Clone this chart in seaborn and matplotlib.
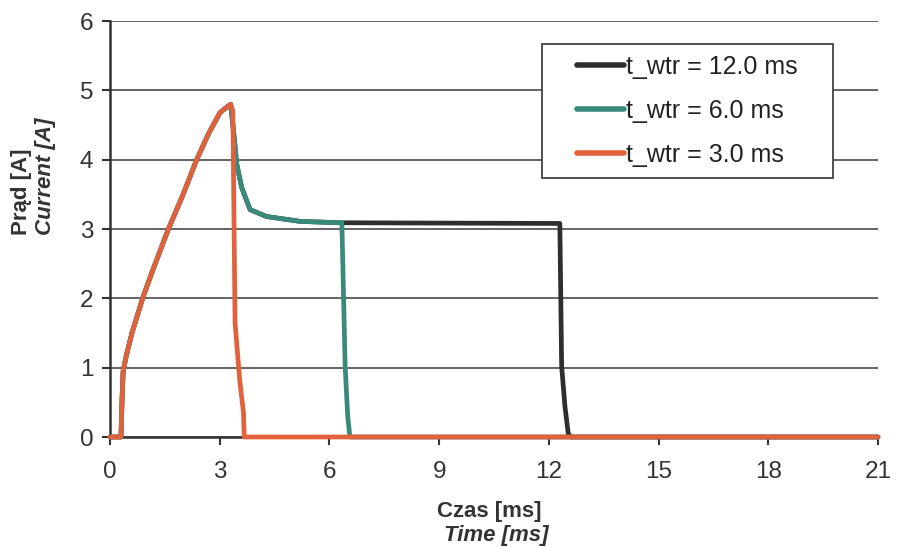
import numpy as np
import pandas as pd
import matplotlib
matplotlib.use("Agg")
import matplotlib.pyplot as plt
from matplotlib.patches import Rectangle
import seaborn as sns

# ---- data ----
rise_t = [0.0, 0.30, 0.33, 0.36, 0.44, 0.60, 0.91, 1.20, 1.59, 2.00, 2.37, 2.70, 3.01, 3.30]
rise_i = [0.0, 0.0, 0.55, 0.95, 1.16, 1.50, 2.03, 2.45, 2.99, 3.50, 4.00, 4.38, 4.68, 4.80]

decay_t = [3.40, 3.46, 3.60, 3.83, 4.28, 5.20, 6.29]
decay_i = [4.30, 3.95, 3.60, 3.28, 3.18, 3.11, 3.09]

t12_tail_t = [12.30, 12.35, 12.44, 12.53, 12.60, 21.0]
t12_tail_i = [3.08, 1.02, 0.44, 0.05, 0.0, 0.0]

t6_tail_t = [6.34, 6.43, 6.50, 6.56, 21.0]
t6_tail_i = [3.09, 1.02, 0.30, 0.0, 0.0]

t3_tail_t = [3.36, 3.42, 3.55, 3.65, 3.67, 21.0]
t3_tail_i = [4.70, 1.64, 0.80, 0.35, 0.0, 0.0]

labels = ["t_wtr = 12.0 ms", "t_wtr = 6.0 ms", "t_wtr = 3.0 ms"]
colors = ["#2e2e2e", "#3a8a7c", "#e0623c"]

x_ticks = [0, 3, 6, 9, 12, 15, 18, 21]
y_ticks = [0, 1, 2, 3, 4, 5, 6]

series = {
    labels[0]: (rise_t + decay_t + t12_tail_t, rise_i + decay_i + t12_tail_i),
    labels[1]: (rise_t + decay_t + t6_tail_t, rise_i + decay_i + t6_tail_i),
    labels[2]: (rise_t + t3_tail_t, rise_i + t3_tail_i),
}
frames = []
for lab, (t, i) in series.items():
    frames.append(pd.DataFrame({"t": t, "i": i, "series": lab, "order": np.arange(len(t))}))
df = pd.concat(frames, ignore_index=True)

sns.set_style("white")
plt.rcParams["font.family"] = ["Liberation Sans", "DejaVu Sans"]

W, H = 899, 548
fig = plt.figure(figsize=(W / 100, H / 100), dpi=100)
ax = fig.add_axes([110 / W, 1 - 437 / H, (878 - 110) / W, (437 - 21) / H])

sns.lineplot(data=df, x="t", y="i", hue="series", hue_order=labels,
             palette=dict(zip(labels, colors)), sort=False, estimator=None,
             linewidth=3.4, ax=ax, legend=True)
for ln in ax.get_lines():
    ln.set_clip_on(False)
    ln.set_zorder(3)

ax.set_xlim(0, 21)
ax.set_ylim(0, 6)
ax.set_xticks(x_ticks)
ax.set_yticks(y_ticks)
ax.tick_params(axis="both", labelsize=17.5, direction="out", length=6, width=1.5,
               color="#333333", labelcolor="#333333", left=True, bottom=True)
ax.tick_params(axis="x", pad=11)
ax.tick_params(axis="y", pad=6)
ax.yaxis.grid(True, color="#4a4a4a", linewidth=1.2)
ax.xaxis.grid(False)
ax.set_axisbelow(True)
for s in ["top", "right"]:
    ax.spines[s].set_visible(False)
for s in ["left", "bottom"]:
    ax.spines[s].set_color("#333333")
    ax.spines[s].set_linewidth(1.8)
    ax.spines[s].set_zorder(2.5)
ax.set_xlabel("")
ax.set_ylabel("")

# legend box drawn separately (wide horizontal padding, tight vertical padding)
bx0, by0, bx1, by1 = 542, 44, 833, 178
ax.add_patch(Rectangle((bx0 / W, 1 - by1 / H), (bx1 - bx0) / W, (by1 - by0) / H,
                       transform=fig.transFigure, facecolor="white", clip_on=False,
                       edgecolor="#333333", linewidth=1.2, zorder=4))
leg = ax.legend(loc="center", bbox_to_anchor=(((bx0 + bx1) / 2) / W, 1 - ((by0 + by1) / 2) / H),
                bbox_transform=fig.transFigure,
                fontsize=18, frameon=False, handlelength=1.9, handletextpad=0.08,
                borderpad=0.0, labelspacing=0.8, borderaxespad=0)
leg.set_zorder(6)
for txt in leg.get_texts():
    txt.set_color("#222222")
for ln in leg.get_lines():
    ln.set_linewidth(4.0)

lab_kw = dict(fontsize=16, fontweight="bold", color="#333333")
fig.text(21 / W, 1 - 235 / H, "Prąd [A]", rotation=90, ha="center", va="bottom", **lab_kw)
fig.text(46 / W, 1 - 235 / H, "Current [A]", rotation=90, ha="center", va="bottom",
         fontstyle="italic", **lab_kw)
fig.text(489 / W, 1 - 511 / H, "Czas [ms]", ha="center", va="center", **lab_kw)
fig.text(496 / W, 1 - 535 / H, "Time [ms]", ha="center", va="center", fontstyle="italic", **lab_kw)

fig.savefig("out.png", dpi=100)
